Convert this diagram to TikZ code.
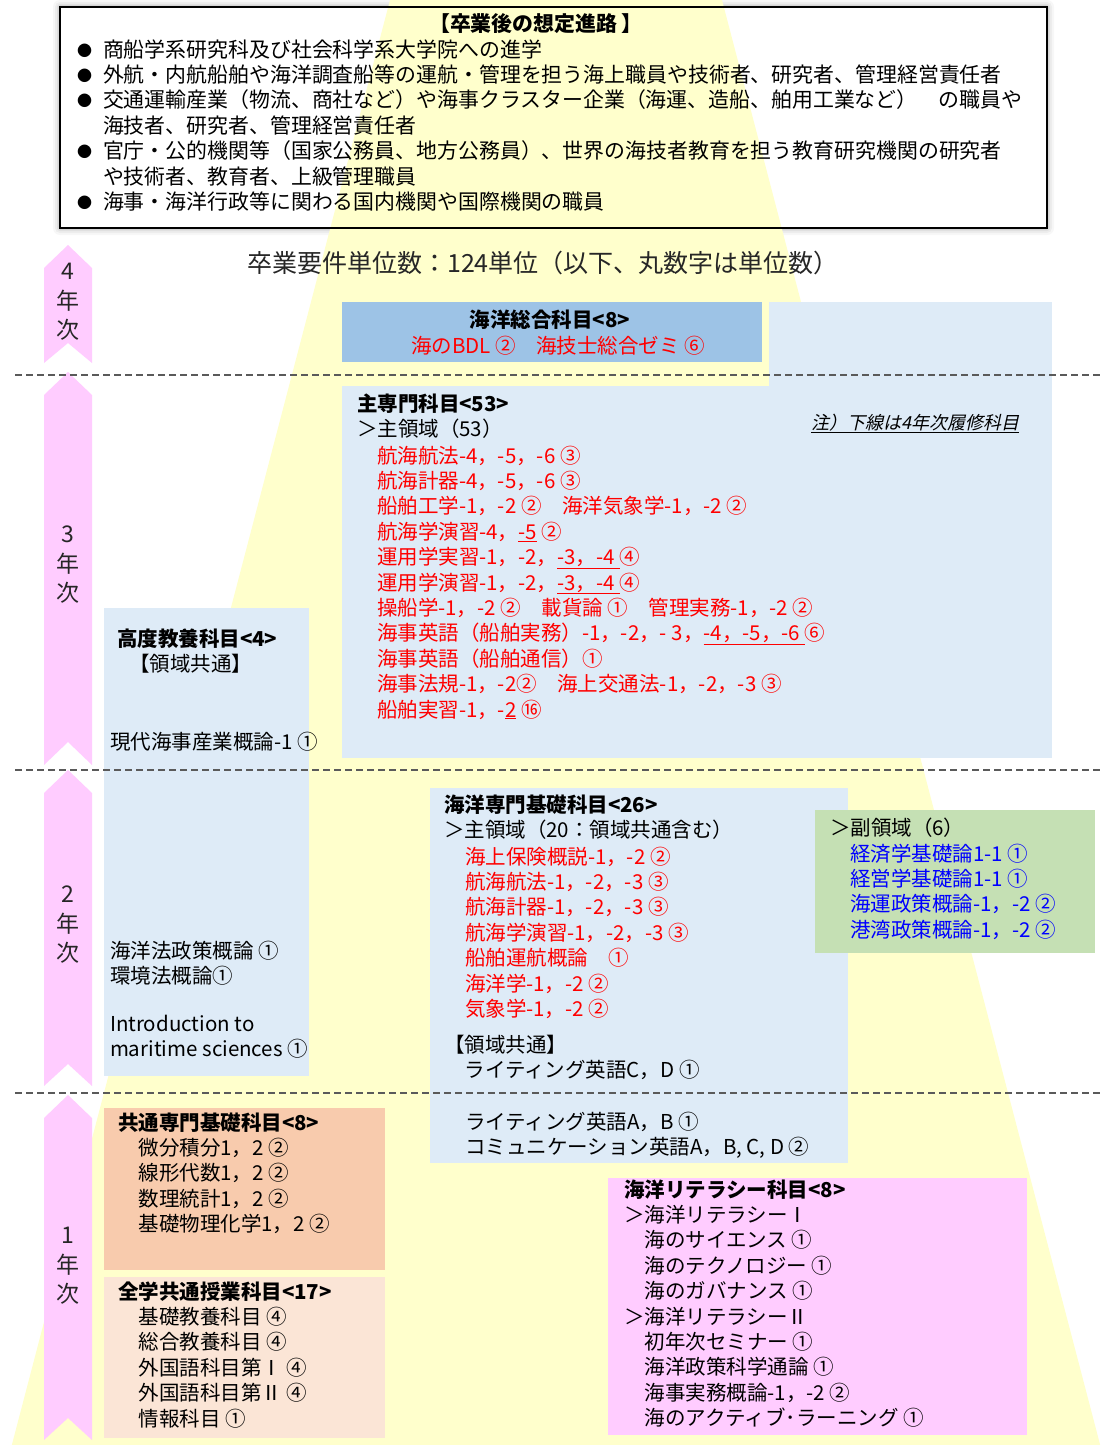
\documentclass[tikz,border=0pt]{standalone}
\usepackage{fontspec}
\setmainfont{Noto Sans CJK JP}
\newfontfamily\noteit[FakeSlant=0.22]{Noto Sans CJK JP}
\definecolor{trapyel}{HTML}{FFFFCC}
\definecolor{yrpink}{HTML}{FFCCFF}
\definecolor{lblue}{HTML}{DEEBF7}
\definecolor{mblue}{HTML}{9DC3E6}
\definecolor{lgreen}{HTML}{C5E0B4}
\definecolor{orng}{HTML}{F8CBAD}
\definecolor{peach}{HTML}{FBE5D6}
\definecolor{litpink}{HTML}{FFCCFF}
\definecolor{redtxt}{HTML}{FF0000}
\definecolor{bluetxt}{HTML}{0000FF}
\definecolor{dashgray}{HTML}{5A5A5A}
\newcommand{\uln}[1]{\underline{#1}}
% multi-line nodes are anchored at the baseline of their LAST line
\tikzset{
  box/.style={anchor=north west, inner sep=0pt, outer sep=0pt, draw=none},
  txt/.style={anchor=base west, inner sep=0pt, outer sep=0pt, align=left,
              font=\fontsize{20.5}{25.4}\selectfont, text=black},
  redt/.style={txt, text=redtxt},
  bluet/.style={txt, text=bluetxt},
  yearlbl/.style={anchor=center, inner sep=0pt, align=center,
              font=\fontsize{23}{29.5}\selectfont, text=black!85},
  sepline/.style={draw=dashgray, line width=1.8pt, dash pattern=on 7pt off 4pt},
}
\begin{document}
\begin{tikzpicture}[x=1pt, y=-1pt]
\useasboundingbox (0,0) rectangle (1102,1445);
\fill[white] (0,0) rectangle (1102,1445);

% shadow of top box
\foreach \d/\o in {7/0.03,5/0.04,3/0.05,1.5/0.07}
  \fill[black, opacity=\o, rounded corners=\d pt] (60-\d,7-\d) rectangle (1047+\d,228+\d);
\fill[white] (60,7) rectangle (1047,228);

% yellow trapezoid
\fill[trapyel] (390,0) -- (722,0) -- (1102,1452) -- (10,1452) -- cycle;

% top box
\node[box, draw=black, line width=1.4pt, minimum width=987pt, minimum height=221pt] (topbox) at (60,7) {};
\node[anchor=base, inner sep=0pt, font=\fontsize{20.9}{25.4}\selectfont\bfseries] (toptitle) at (536,32) {【卒業後の想定進路 】};
\node[txt, font=\fontsize{15}{25.4}\selectfont] (bullets) at (77,56+6*25.4) {●\\●\\●\\\\●\\\\●};
\node[txt, font=\fontsize{20.9}{25.4}\selectfont] (toplist) at (103,57+6*25.4) {商船学系研究科及び社会科学系大学院への進学\\
外航・内航船舶や海洋調査船等の運航・管理を担う海上職員や技術者、研究者、管理経営責任者\\
交通運輸産業（物流、商社など）や海事クラスター企業（海運、造船、舶用工業など）　の職員や\\
海技者、研究者、管理経営責任者\\
官庁・公的機関等（国家公務員、地方公務員）、世界の海技者教育を担う教育研究機関の研究者\\
や技術者、教育者、上級管理職員\\
海事・海洋行政等に関わる国内機関や国際機関の職員};

% credits line
\node[anchor=base, inner sep=0pt, font=\fontsize{25}{30}\selectfont, text=black!85] (credits) at (543,272) {卒業要件単位数：124単位（以下、丸数字は単位数）};

% boxes
\node[box, fill=mblue, minimum width=420pt, minimum height=60pt] (sogo) at (342,302) {};
\node[box, fill=lblue, minimum width=283pt, minimum height=456pt] (mainright) at (769,302) {};
\node[box, fill=lblue, minimum width=710pt, minimum height=372pt] (mainbox) at (342,386) {};
\node[box, fill=lblue, minimum width=205pt, minimum height=468pt] (koudo) at (104,608) {};
\node[box, fill=lblue, minimum width=418pt, minimum height=375pt] (kiso) at (430,788) {};
\node[box, fill=lgreen, minimum width=280pt, minimum height=143pt] (fuku) at (815,810) {};
\node[box, fill=orng, minimum width=281pt, minimum height=162pt] (kyotsu) at (104,1108) {};
\node[box, fill=peach, minimum width=281pt, minimum height=161pt] (zengaku) at (104,1277) {};
\node[box, fill=litpink, minimum width=419pt, minimum height=257pt] (literacy) at (608,1178) {};

% year arrows
\fill[yrpink] (44,268) -- (68,245) -- (92,268) -- (92,363) -- (68,343) -- (44,363) -- cycle;
\fill[yrpink] (44,395) -- (68,372) -- (92,395) -- (92,765) -- (68,742) -- (44,765) -- cycle;
\fill[yrpink] (44,793) -- (68,770) -- (92,793) -- (92,1086) -- (68,1064) -- (44,1086) -- cycle;
\fill[yrpink] (44,1118) -- (68,1095) -- (92,1118) -- (92,1440) -- (68,1418) -- (44,1440) -- cycle;
\node[yearlbl] (y4) at (68,302) {4\\年\\次};
\node[yearlbl] (y3) at (68,565) {3\\年\\次};
\node[yearlbl] (y2) at (68,925) {2\\年\\次};
\node[yearlbl] (y1) at (68,1266) {1\\年\\次};

% dashed separators
\draw[sepline] (15,375) -- (1102,375);
\draw[sepline] (15,770) -- (1102,770);
\draw[sepline] (15,1093) -- (1102,1093);

% sogo text
\node[anchor=base, inner sep=0pt, font=\fontsize{20.5}{25.4}\selectfont\bfseries] (sogotitle) at (550,327) {海洋総合科目<8>};
\node[anchor=base, inner sep=0pt, font=\fontsize{20.5}{25.4}\selectfont, text=redtxt] (sogoitems) at (558,353) {海のBDL ②　海技士総合ゼミ ⑥};

% main box text
\node[txt] (mainhead) at (357,411+25.4) {\textbf{主専門科目<53>}\\＞主領域（53）};
\node[redt] (mainitems) at (377,463+10*25.4) {航海航法-4，-5，-6 ③\\
航海計器-4，-5，-6 ③\\
船舶工学-1，-2 ②　海洋気象学-1，-2 ②\\
航海学演習-4，\uln{-5} ②\\
運用学実習-1，-2，\uln{-3，-4 }④\\
運用学演習-1，-2，\uln{-3，-4 }④\\
操船学-1，-2 ②　載貨論 ①　管理実務-1，-2 ②\\
海事英語（船舶実務）-1，-2，- 3，\uln{-4，-5，-6 }⑥\\
海事英語（船舶通信）①\\
海事法規-1，-2②　海上交通法-1，-2，-3 ③\\
船舶実習-1，-\uln{2} ⑯};
\node[anchor=base west, inner sep=0pt, font=\fontsize{18}{22}\noteit] (note) at (811,429) {\uln{注）下線は4年次履修科目}};

% koudo text
\node[txt] (koudohead) at (117,646+25.4) {\textbf{高度教養科目<4>}\\\hspace{12pt}【領域共通】};
\node[txt] (koudo3) at (110,749) {現代海事産業概論-1 ①};
\node[txt] (koudo2) at (110,958+25.4) {海洋法政策概論 ①\\環境法概論①};
\node[txt] (koudoen) at (110,1031+25.4) {Introduction to\\maritime sciences ①};

% kiso text
\node[txt] (kisohead) at (444,812+25.4) {\textbf{海洋専門基礎科目<26>}\\＞主領域（20：領域共通含む）};
\node[redt] (kisoitems) at (465,864+6*25.4) {海上保険概説-1，-2 ②\\
航海航法-1，-2，-3 ③\\
航海計器-1，-2，-3 ③\\
航海学演習-1，-2，-3 ③\\
船舶運航概論　①\\
海洋学-1，-2 ②\\
気象学-1，-2 ②};
\node[txt] (kisocommon) at (444,1052+25.4) {【領域共通】\\　ライティング英語C，D ①};
\node[txt] (kisoeng) at (465,1129+25.4) {ライティング英語A，B ①\\コミュニケーション英語A，B, C, D ②};

% fuku text
\node[txt] (fukuhead) at (830,835) {＞副領域（6）};
\node[bluet] (fukuitems) at (850,861+3*25.4) {経済学基礎論1-1 ①\\経営学基礎論1-1 ①\\海運政策概論-1，-2 ②\\港湾政策概論-1，-2 ②};

% year 1 boxes text
\node[txt] (kyotsutext) at (118,1130+4*25.4) {\textbf{共通専門基礎科目<8>}\\
　微分積分1，2 ②\\
　線形代数1，2 ②\\
　数理統計1，2 ②\\
　基礎物理化学1，2 ②};
\node[txt] (zengakutext) at (118,1299+5*25.4) {\textbf{全学共通授業科目<17>}\\
　基礎教養科目 ④\\
　総合教養科目 ④\\
　外国語科目第Ⅰ ④\\
　外国語科目第Ⅱ ④\\
　情報科目 ①};
\node[txt] (literacytext) at (624,1197+9*25.4) {\textbf{海洋リテラシー科目<8>}\\
＞海洋リテラシーⅠ\\
　海のサイエンス ①\\
　海のテクノロジー ①\\
　海のガバナンス ①\\
＞海洋リテラシーⅡ\\
　初年次セミナー ①\\
　海洋政策科学通論 ①\\
　海事実務概論-1，-2 ②\\
　海のアクティブ･ラーニング ①};
\end{tikzpicture}
\end{document}
